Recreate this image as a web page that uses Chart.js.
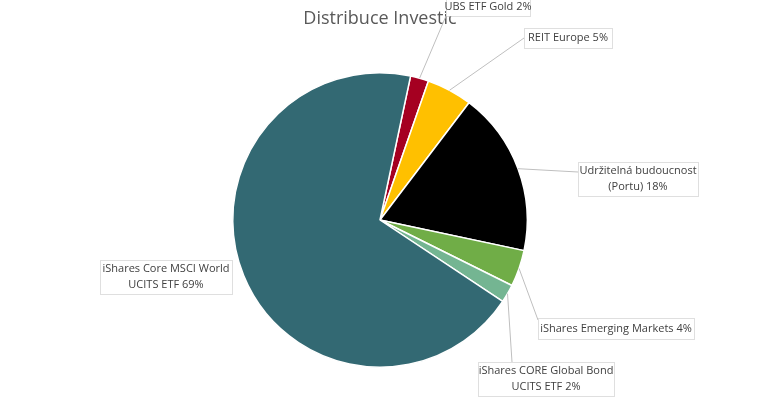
<!DOCTYPE html>
<html>
<head>
<meta charset="utf-8">
<script src="https://cdn.jsdelivr.net/npm/chart.js@4"></script>
<style>
  body { margin: 0; background: #fff; }
  #wrap { width: 759px; height: 408px; }
</style>
</head>
<body>
<div id="wrap"><canvas id="myChart"></canvas></div>
<script>
var labels = ['UBS ETF Gold', 'REIT Europe', 'Udržitelná budoucnost (Portu)', 'iShares Emerging Markets', 'iShares CORE Global Bond UCITS ETF', 'iShares Core MSCI World UCITS ETF'];
var values = [2, 5, 18, 4, 2, 69];
var colors = ['#A50021', '#FFC000', '#000000', '#70AD47', '#74B592', '#336973'];
var labelLines = [
    ['UBS ETF Gold 2%'],
    ['REIT Europe 5%'],
    ['Udržitelná budoucnost', '(Portu) 18%'],
    ['iShares Emerging Markets 4%'],
    ['iShares CORE Global Bond', 'UCITS ETF 2%'],
    ['iShares Core MSCI World', 'UCITS ETF 69%']
];

// callout boxes: x, y, w, h, anchor point for leader (null = none)
var boxes = [
    { x: 446, y: -3, w: 84, h: 19, ax: 446, ay: 16 },
    { x: 524, y: 28, w: 88, h: 20, ax: 524, ay: 38 },
    { x: 578, y: 162, w: 120, h: 34, ax: 578, ay: 172 },
    { x: 538, y: 318, w: 156, h: 21, ax: 538, ay: 320 },
    { x: 478, y: 362, w: 136, h: 34, ax: 512, ay: 362 },
    { x: 100, y: 260, w: 132, h: 34, ax: null }
];

var calloutPlugin = {
    id: 'callouts',
    afterDraw: function (chart) {
        var ctx = chart.ctx;
        ctx.save();
        ctx.fillStyle = '#595959';
        ctx.font = '18px "Open Sans", sans-serif';
        ctx.textAlign = 'center';
        ctx.textBaseline = 'middle';
        ctx.fillText('Distribuce Investic', 380, 19);

        var arcs = chart.getDatasetMeta(0).data;
        ctx.font = '11px "Open Sans", sans-serif';
        boxes.forEach(function (b, i) {
            var arc = arcs[i];
            if (b.ax !== null) {
                var mid = (arc.startAngle + arc.endAngle) / 2;
                var px = arc.x + Math.cos(mid) * arc.outerRadius;
                var py = arc.y + Math.sin(mid) * arc.outerRadius;
                ctx.strokeStyle = '#BFBFBF';
                ctx.lineWidth = 1;
                ctx.setLineDash([]);
                ctx.beginPath();
                ctx.moveTo(px, py);
                ctx.lineTo(b.ax, b.ay);
                ctx.stroke();
            }
            ctx.fillStyle = '#fff';
            ctx.fillRect(b.x, b.y, b.w, b.h);
            ctx.strokeStyle = '#BFBFBF';
            ctx.setLineDash([1, 1]);
            ctx.strokeRect(b.x + 0.5, b.y + 0.5, b.w, b.h);
            ctx.fillStyle = '#404040';
            var lines = labelLines[i];
            var lh = 16;
            var y0 = b.y + b.h / 2 - (lines.length - 1) * lh / 2;
            lines.forEach(function (t, k) {
                ctx.fillText(t, b.x + b.w / 2, y0 + k * lh);
            });
        });
        ctx.restore();
    }
};

var myChart = new Chart(document.getElementById('myChart'), {
    type: 'pie',
    data: {
        labels: labels,
        datasets: [{
            data: values,
            backgroundColor: colors,
            borderColor: '#ffffff',
            borderWidth: 1.5
        }]
    },
    options: {
        responsive: true,
        maintainAspectRatio: false,
        animation: false,
        rotation: 12,
        layout: { padding: { top: 72, bottom: 40, left: 232, right: 231 } },
        plugins: {
            legend: { display: false },
            title: { display: false },
            tooltip: { enabled: false }
        }
    },
    plugins: [calloutPlugin]
});
</script>
</body>
</html>
